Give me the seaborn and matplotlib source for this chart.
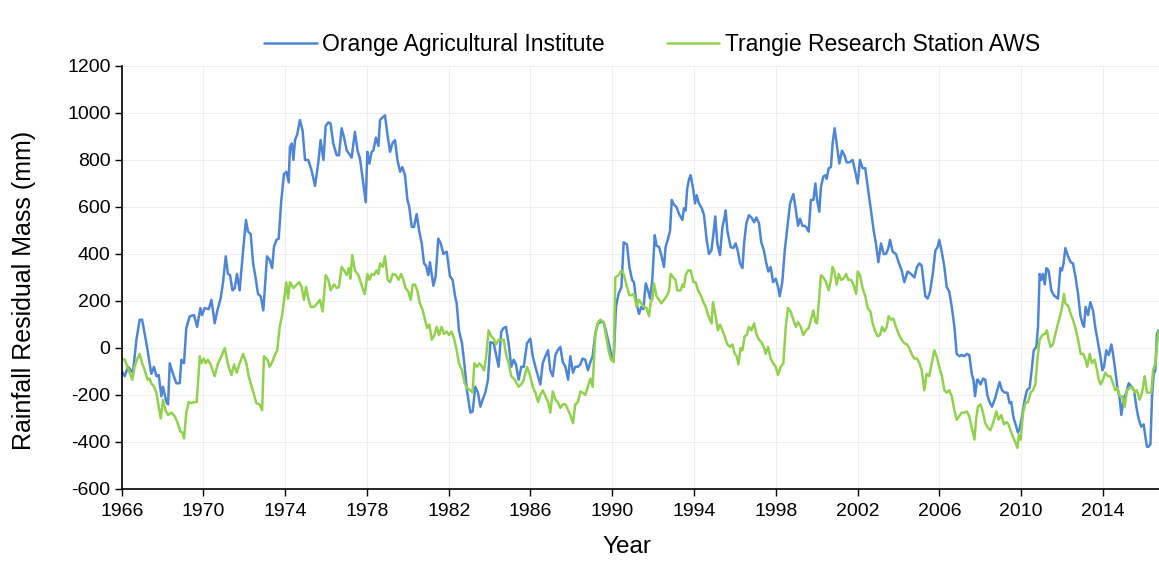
import matplotlib
matplotlib.use("Agg")
import matplotlib.pyplot as plt
import seaborn as sns

# ==============================
# 0. Data
# ==============================
orange_year = [
    1966.00, 1966.15, 1966.31, 1966.55, 1966.72, 1966.88, 1967.00, 1967.21, 1967.37, 1967.45,
    1967.58, 1967.70, 1967.81, 1967.94, 1968.02, 1968.19, 1968.27, 1968.35, 1968.51, 1968.67,
    1968.84, 1968.92, 1969.05, 1969.16, 1969.33, 1969.54, 1969.69, 1969.85, 1969.93, 1970.06,
    1970.26, 1970.39, 1970.55, 1970.68, 1970.84, 1970.96, 1971.09, 1971.20, 1971.30, 1971.42,
    1971.53, 1971.64, 1971.77, 1971.94, 1972.08, 1972.18, 1972.31, 1972.43, 1972.54, 1972.67,
    1972.80, 1972.93, 1973.11, 1973.24, 1973.36, 1973.45, 1973.57, 1973.68, 1973.81, 1973.94,
    1974.06, 1974.17,
    1974.23, 1974.32, 1974.40, 1974.48, 1974.59, 1974.72, 1974.85, 1974.97,
    1975.13, 1975.29, 1975.46, 1975.62, 1975.73, 1975.87, 1975.98,
    1976.11, 1976.22, 1976.35, 1976.52, 1976.63, 1976.76, 1976.88,
    1977.01, 1977.14, 1977.25, 1977.41, 1977.54, 1977.66, 1977.82, 1977.94,
    1978.02, 1978.12, 1978.23, 1978.31, 1978.44, 1978.56, 1978.64, 1978.75, 1978.88,
    1979.00, 1979.13, 1979.24, 1979.37, 1979.49, 1979.62, 1979.73, 1979.86, 1979.98,
    1980.07, 1980.19, 1980.30, 1980.43, 1980.56, 1980.68, 1980.79, 1980.89,
    1981.00, 1981.08, 1981.25, 1981.36, 1981.49, 1981.61, 1981.74, 1981.90,
    1982.06, 1982.19, 1982.31, 1982.39, 1982.50,
    1982.65, 1982.78, 1982.89,
    1983.06, 1983.17, 1983.30, 1983.43, 1983.55, 1983.66, 1983.79, 1983.92,
    1984.04, 1984.20, 1984.31, 1984.44, 1984.57, 1984.69, 1984.80, 1984.93,
    1985.06, 1985.18, 1985.29, 1985.42, 1985.55, 1985.67, 1985.83, 1985.99,
    1986.11, 1986.24, 1986.37, 1986.48, 1986.60, 1986.73, 1986.86, 1986.97,
    1987.09, 1987.22, 1987.33, 1987.46, 1987.58, 1987.71, 1987.84, 1987.95,
    1988.08, 1988.19, 1988.32, 1988.44, 1988.55, 1988.68, 1988.81, 1988.93,
    1989.04, 1989.17, 1989.30, 1989.42, 1989.58, 1989.70, 1989.83, 1989.94,
    1990.07, 1990.18, 1990.31, 1990.45, 1990.56, 1990.72, 1990.84, 1990.97,
    1991.06, 1991.19, 1991.31, 1991.42, 1991.52, 1991.64, 1991.75, 1991.85, 1991.96,
    1992.08, 1992.17, 1992.29, 1992.40, 1992.53, 1992.61, 1992.73, 1992.83, 1992.91,
    1993.02, 1993.14, 1993.27, 1993.43, 1993.51, 1993.59, 1993.67, 1993.76, 1993.84, 1993.97,
    1994.05, 1994.13, 1994.24, 1994.38, 1994.49, 1994.62, 1994.73, 1994.85, 1994.95,
    1995.04, 1995.14, 1995.27, 1995.39, 1995.47, 1995.55, 1995.63, 1995.79, 1995.92,
    1996.04, 1996.15, 1996.25, 1996.37, 1996.45, 1996.56, 1996.69, 1996.81, 1996.94,
    1997.05, 1997.18, 1997.29, 1997.42, 1997.54, 1997.64, 1997.75, 1997.87,
    1998.00, 1998.11, 1998.19, 1998.32, 1998.44, 1998.57, 1998.70, 1998.86, 1998.97,
    1999.09, 1999.19, 1999.30, 1999.41,
    1999.48, 1999.61, 1999.72, 1999.84, 1999.94,
    2000.02, 2000.13, 2000.21, 2000.33, 2000.43, 2000.49, 2000.59, 2000.70, 2000.78, 2000.88, 2000.98,
    2001.11, 2001.24, 2001.36, 2001.47, 2001.60, 2001.76, 2001.89,
    2002.01, 2002.12, 2002.25, 2002.38, 2002.50, 2002.66, 2002.79, 2002.90,
    2003.02, 2003.15, 2003.28, 2003.39, 2003.51, 2003.59, 2003.72, 2003.88,
    2004.01, 2004.16, 2004.29, 2004.45, 2004.62, 2004.78, 2004.91,
    2005.03, 2005.14, 2005.22, 2005.32, 2005.43, 2005.55, 2005.68, 2005.81, 2005.92,
    2006.00, 2006.12, 2006.25, 2006.36, 2006.49, 2006.61, 2006.74, 2006.85, 2006.98,
    2007.10, 2007.23, 2007.34, 2007.47, 2007.59, 2007.67, 2007.75, 2007.85,
    2007.89,
    2008.02, 2008.14, 2008.25, 2008.35, 2008.46, 2008.58, 2008.71, 2008.84, 2008.95,
    2009.07, 2009.20, 2009.33, 2009.44, 2009.52, 2009.64, 2009.77, 2009.85, 2009.93,
    2010.05, 2010.18, 2010.29, 2010.42, 2010.54, 2010.62, 2010.75, 2010.83, 2010.91, 2010.99,
    2011.07, 2011.16, 2011.24, 2011.35, 2011.48, 2011.60, 2011.73, 2011.81, 2011.92,
    2012.00, 2012.08, 2012.17, 2012.30, 2012.43, 2012.54, 2012.66, 2012.79, 2012.90,
    2013.00, 2013.08, 2013.16, 2013.28, 2013.39, 2013.52, 2013.63, 2013.78, 2013.88, 2013.98,
    2014.06, 2014.17, 2014.29, 2014.42, 2014.50, 2014.61, 2014.71, 2014.83, 2014.91,
    2015.02, 2015.15, 2015.27, 2015.40, 2015.53, 2015.64, 2015.75, 2015.88,
    2016.00, 2016.08, 2016.16, 2016.24, 2016.33, 2016.41, 2016.49, 2016.57, 2016.65, 2016.72,
]
orange_mm = [
    -100, -120, -80, -105, 35, 120, 120, 20, -65, -110,
    -80, -120, -115, -205, -165, -230, -240, -65, -110, -150,
    -150, -50, -65, 85, 135, 140, 90, 170, 140, 170,
    165, 205, 105, 160, 210, 280, 390, 315, 310, 245,
    255, 315, 245, 415, 545, 495, 485, 360, 305, 230,
    220, 160, 390, 375, 340, 430, 460, 465, 630, 740,
    750, 705,
    855, 870, 800, 885, 910, 970, 925, 800,
    800, 755, 690, 790, 885, 800, 945,
    960, 955, 870, 820, 820, 935, 895,
    840, 825, 810, 920, 840, 805, 700, 620,
    835, 785, 835, 840, 895, 860, 970, 980, 990,
    910, 835, 870, 885, 800, 750, 770, 735, 630,
    600, 515, 515, 570, 495, 445, 360, 350,
    310, 365, 265, 305, 465, 445, 400, 410,
    305, 290, 220, 190, 75,
    20, -80, -180,
    -275, -270, -165, -190, -250, -220, -190, -135,
    25, 20, -25, -80, 70, 85, 90, 20,
    -80, -50, -70, -135, -80, -80, 20, 40,
    -35, -80, -120, -155, -65, -35, -10, -95,
    -120, -30, -10, 5, -60, -80, -135, -35,
    -105, -80, -80, -70, -45, -50, -95, -60,
    -35, 60, 105, 110, 110, 70, 20, -25,
    -50, 175, 230, 260, 450, 440, 345, 290,
    280, 190, 145, 175, 165, 275, 245, 210, 290,
    480, 435, 430, 395, 345, 430, 465, 500, 630,
    610, 600, 570, 545, 595, 585, 680, 720, 735, 670,
    615, 650, 615, 595, 565, 460, 400, 415, 485,
    560, 445, 395, 515, 545, 585, 500, 430, 425,
    445, 410, 360, 340, 445, 530, 565, 555, 535,
    555, 530, 450, 415, 360, 325, 345, 280,
    295, 260, 220, 280, 415, 515, 615, 655, 595,
    520, 550, 520, 520,
    515, 495, 630, 630, 700,
    630, 580, 685, 730, 735, 720, 765, 770, 870, 935, 870,
    785, 840, 820, 790, 790, 800, 750,
    700, 800, 765, 765, 685, 585, 500, 445,
    365, 445, 400, 400, 425, 460, 410, 400,
    365, 330, 280, 325, 315, 300, 345,
    360, 350, 290, 220, 210, 240, 315, 415, 430,
    460, 410, 345, 260, 240, 175, 90, -25, -35,
    -30, -35, -25, -30, -110, -135, -205, -135,
    -135,
    -155, -130, -135, -200, -230, -250, -220, -180, -145,
    -180, -190, -190, -235, -230, -300, -335, -360, -345,
    -290, -220, -180, -170, -80, -10, 5, 90, 315, 290,
    315, 270, 340, 330, 245, 225, 215, 210, 340,
    330, 360, 425, 390, 365, 360, 305, 230, 140,
    105, 90, 175, 140, 195, 160, 90, 15, -35, -95,
    -80, -10, -30, 15, -25, -95, -165, -220, -285,
    -215, -190, -150, -165, -180, -250, -300, -335,
    -325, -375, -420, -420, -410, -205, -110, -95, 60, 75,
]

trangie_year = [
    1966.00, 1966.15, 1966.28, 1966.39, 1966.52, 1966.63, 1966.77, 1966.88,
    1967.00, 1967.13, 1967.26, 1967.37, 1967.45, 1967.58, 1967.70, 1967.81, 1967.91,
    1968.02, 1968.14, 1968.27, 1968.43, 1968.59, 1968.72, 1968.87, 1968.97,
    1969.05, 1969.16, 1969.28, 1969.41, 1969.54, 1969.67, 1969.82, 1969.90,
    1970.02, 1970.11, 1970.22, 1970.35, 1970.55, 1970.71, 1970.88,
    1971.04, 1971.20, 1971.37, 1971.50, 1971.63, 1971.77, 1971.94,
    1972.10, 1972.21, 1972.43, 1972.59, 1972.75, 1972.87, 1972.96,
    1973.13, 1973.24, 1973.36, 1973.49, 1973.61, 1973.73, 1973.84, 1973.97,
    1974.05, 1974.14,
    1974.23, 1974.40, 1974.56, 1974.69, 1974.80, 1974.92,
    1975.02, 1975.13, 1975.25, 1975.41, 1975.57, 1975.70, 1975.83, 1975.98,
    1976.11, 1976.22, 1976.39, 1976.52, 1976.63, 1976.76, 1976.88,
    1977.01, 1977.12, 1977.19, 1977.28, 1977.41, 1977.58, 1977.69, 1977.82, 1977.90,
    1978.02, 1978.12, 1978.23, 1978.34, 1978.47, 1978.56, 1978.64, 1978.77, 1978.88,
    1979.01, 1979.13, 1979.26, 1979.42, 1979.54, 1979.67, 1979.78, 1979.89,
    1980.02, 1980.14, 1980.24, 1980.35, 1980.46, 1980.59, 1980.73, 1980.84, 1980.95,
    1981.05, 1981.17, 1981.28, 1981.41, 1981.52, 1981.65, 1981.77, 1981.90,
    1982.01, 1982.14, 1982.26, 1982.39, 1982.50,
    1982.65, 1982.78, 1982.89,
    1983.06, 1983.17, 1983.25, 1983.38, 1983.50, 1983.63, 1983.73, 1983.82, 1983.95,
    1984.08, 1984.20, 1984.31, 1984.44, 1984.57, 1984.69, 1984.80, 1984.93,
    1985.06, 1985.18, 1985.29, 1985.42, 1985.55, 1985.67, 1985.83, 1985.99,
    1986.11, 1986.24, 1986.37, 1986.48, 1986.60, 1986.73, 1986.86, 1986.97,
    1987.09, 1987.22, 1987.33, 1987.46, 1987.58, 1987.71, 1987.84, 1987.95,
    1988.08, 1988.19, 1988.32, 1988.44, 1988.55, 1988.68, 1988.81, 1988.93,
    1989.04, 1989.17, 1989.30, 1989.42, 1989.58, 1989.70, 1989.83, 1989.94,
    1990.07, 1990.15, 1990.31, 1990.45, 1990.56, 1990.72, 1990.84, 1990.97,
    1991.06, 1991.19, 1991.31, 1991.42, 1991.55, 1991.68, 1991.80, 1991.88, 1991.96,
    1992.04, 1992.17, 1992.29, 1992.40, 1992.53, 1992.66, 1992.78, 1992.86, 1992.99,
    1993.10, 1993.18, 1993.35, 1993.43, 1993.51, 1993.59, 1993.71, 1993.84, 1993.97,
    1994.08, 1994.20, 1994.33, 1994.46, 1994.57, 1994.69, 1994.78, 1994.86, 1994.93,
    1995.06, 1995.17, 1995.27, 1995.39, 1995.50, 1995.63, 1995.76, 1995.88, 1995.99,
    1996.09, 1996.17, 1996.28, 1996.37, 1996.48, 1996.58, 1996.69, 1996.81, 1996.94,
    1997.05, 1997.18, 1997.30, 1997.43, 1997.51, 1997.62, 1997.75, 1997.87,
    1998.00, 1998.11, 1998.24, 1998.37, 1998.49, 1998.60, 1998.73, 1998.86, 1998.98,
    1999.09, 1999.22, 1999.35,
    1999.48, 1999.61, 1999.72, 1999.84, 1999.94,
    2000.02, 2000.13, 2000.21, 2000.33, 2000.46, 2000.59, 2000.70, 2000.78, 2000.87, 2000.98,
    2001.08, 2001.19, 2001.31, 2001.44, 2001.55, 2001.68, 2001.80, 2001.93,
    2002.01, 2002.12, 2002.25, 2002.38, 2002.50, 2002.63, 2002.74, 2002.87, 2002.99,
    2003.10, 2003.20, 2003.31, 2003.43, 2003.52, 2003.64, 2003.75, 2003.88,
    2004.01, 2004.16, 2004.29, 2004.42, 2004.53, 2004.67, 2004.78, 2004.91,
    2005.03, 2005.14, 2005.27, 2005.38, 2005.51, 2005.63, 2005.76, 2005.87,
    2006.00, 2006.13, 2006.25, 2006.36, 2006.49, 2006.61, 2006.74, 2006.85, 2006.98,
    2007.10, 2007.23, 2007.34, 2007.47, 2007.59, 2007.72, 2007.80,
    2007.89,
    2008.02, 2008.14, 2008.25, 2008.38, 2008.50, 2008.63, 2008.79, 2008.90,
    2009.03, 2009.17, 2009.28, 2009.39, 2009.52, 2009.64, 2009.74, 2009.82, 2009.90, 2009.98,
    2010.10, 2010.21, 2010.34, 2010.47, 2010.58, 2010.70, 2010.80, 2010.91,
    2011.04, 2011.16, 2011.27, 2011.35, 2011.45, 2011.56, 2011.68, 2011.81, 2011.92,
    2012.00, 2012.10, 2012.17, 2012.30, 2012.43, 2012.54, 2012.66, 2012.79, 2012.92,
    2013.03, 2013.14, 2013.24, 2013.36, 2013.47, 2013.60, 2013.72, 2013.80, 2013.90,
    2014.01, 2014.12, 2014.25, 2014.37, 2014.50, 2014.61, 2014.71, 2014.83, 2014.94,
    2015.07, 2015.18, 2015.31, 2015.43, 2015.56, 2015.67, 2015.80, 2015.92,
    2016.05, 2016.16, 2016.29, 2016.37, 2016.46, 2016.57, 2016.65, 2016.72,
]
trangie_mm = [
    -45, -50, -80, -105, -135, -80, -45, -25,
    -65, -95, -135, -130, -150, -165, -190, -250, -300,
    -220, -265, -285, -275, -290, -315, -355, -360,
    -385, -275, -230, -235, -230, -230, -35, -65,
    -45, -65, -50, -70, -120, -65, -35,
    0, -70, -115, -70, -105, -65, -25,
    -65, -120, -185, -235, -240, -265, -35,
    -50, -80, -60, -30, -10, 90, 135, 220,
    280, 210,
    280, 255, 270, 280, 260, 205,
    260, 210, 175, 175, 190, 205, 155, 310,
    290, 245, 270, 255, 260, 345, 330,
    310, 340, 295, 395, 330, 310, 280, 245, 230,
    315, 290, 315, 310, 330, 315, 360, 345, 390,
    290, 280, 315, 310, 290, 315, 290, 255,
    240, 205, 270, 270, 245, 190, 160, 120, 85,
    100, 35, 50, 90, 55, 90, 60, 70,
    55, 70, 40, -10, -65,
    -95, -150, -170,
    -180, -190, -65, -80, -65, -80, -95, -45, 75,
    50, 40, 15, 35, 35, 35, -25, -65,
    -120, -130, -145, -165, -155, -135, -80, -120,
    -165, -190, -230, -200, -180, -205, -230, -275,
    -185, -220, -230, -255, -240, -240, -265, -285,
    -320, -240, -230, -185, -190, -200, -165, -130,
    -165, 60, 110, 120, 110, 50, -15, -50,
    -60, 300, 310, 330, 315, 260, 225, 225,
    230, 175, 205, 190, 175, 170, 135, 195, 205,
    275, 220, 205, 190, 205, 220, 245, 315, 300,
    290, 245, 245, 270, 260, 310, 330, 330, 280,
    280, 245, 225, 195, 175, 140, 120, 105, 195,
    135, 75, 100, 75, 50, 15, 5, 15, -25,
    -35, -70, 0, -10, 50, 55, 90, 75, 105,
    60, 35, 25, 0, -25, 5, -45, -65,
    -80, -115, -80, -65, 90, 170, 155, 120, 90,
    110, 90, 55,
    75, 85, 120, 160, 110,
    105, 220, 310, 300, 280, 245, 290, 345, 325, 270,
    315, 290, 295, 315, 290, 290, 270, 230,
    325, 310, 255, 220, 170, 155, 105, 70, 50,
    55, 90, 70, 90, 135, 120, 125, 90,
    60, 35, 20, 15, 0, -30, -45, -45,
    -65, -95, -180, -110, -120, -65, -10, -35,
    -80, -120, -180, -190, -180, -205, -265, -305, -290,
    -275, -275, -270, -290, -340, -390, -305,
    -250,
    -240, -275, -320, -340, -350, -320, -270, -305,
    -285, -325, -315, -325, -360, -385, -405, -425, -370, -390,
    -275, -235, -230, -190, -180, -155, -50, 35,
    55, 60, 75, 35, 5, 15, 60, 105, 140,
    170, 230, 190, 180, 145, 120, 85, 35, -25,
    -25, -45, -80, -25, -65, -50, -95, -135, -155,
    -135, -105, -120, -120, -150, -180, -170, -205, -205,
    -250, -180, -170, -165, -190, -180, -220, -190,
    -120, -190, -190, -190, -95, -65, 5, 70,
]

year_ticks = list(range(1966, 2015, 4))
mm_ticks = list(range(-600, 1201, 200))

orange_label = "Orange Agricultural Institute"
trangie_label = "Trangie Research Station AWS"
orange_color = "#4F86D3"
trangie_color = "#92D050"

# ==============================
# 1. Style
# ==============================
sns.set_theme(style="white")
plt.rcParams['font.family'] = ['Liberation Sans', 'DejaVu Sans']
plt.rcParams['axes.unicode_minus'] = False

# ==============================
# 2. Plot
# ==============================
fig = plt.figure(figsize=(11.59, 5.64), dpi=100)
ax = fig.add_axes([0.105, 0.133, 0.895, 0.750])

sns.lineplot(x=orange_year, y=orange_mm, ax=ax, color=orange_color,
             linewidth=1.8, label=orange_label, estimator=None, sort=False)
sns.lineplot(x=trangie_year, y=trangie_mm, ax=ax, color=trangie_color,
             linewidth=1.8, label=trangie_label, estimator=None, sort=False)

ax.set_xlim(1966, 2016.75)
ax.set_ylim(-600, 1200)
ax.set_xticks(year_ticks)
ax.set_yticks(mm_ticks)
ax.grid(True, color="#ececec", linewidth=0.6)
ax.set_axisbelow(True)

for side in ["top", "right"]:
    ax.spines[side].set_visible(False)
for side in ["left", "bottom"]:
    ax.spines[side].set_color("black")
    ax.spines[side].set_linewidth(1.2)

ax.tick_params(axis="both", which="major", bottom=True, left=True, direction="out",
               length=5, width=1, color="black", labelsize=14, labelcolor="black")
ax.tick_params(axis="x", pad=5)
ax.tick_params(axis="y", pad=3)

ax.set_xlabel("Year", fontsize=17.5, color="black")
ax.set_ylabel("Rainfall Residual Mass (mm)", fontsize=18, color="black")
ax.xaxis.set_label_coords(0.487, -0.112)
ax.yaxis.set_label_coords(-0.083, 0.47)

ax.legend(loc="center", bbox_to_anchor=(0.5626, 0.921), bbox_transform=fig.transFigure,
          ncol=2, frameon=False, fontsize=16.5, handlelength=2.3, handletextpad=0.25,
          columnspacing=2.7, labelcolor="black")

fig.savefig("out.png", dpi=100)
